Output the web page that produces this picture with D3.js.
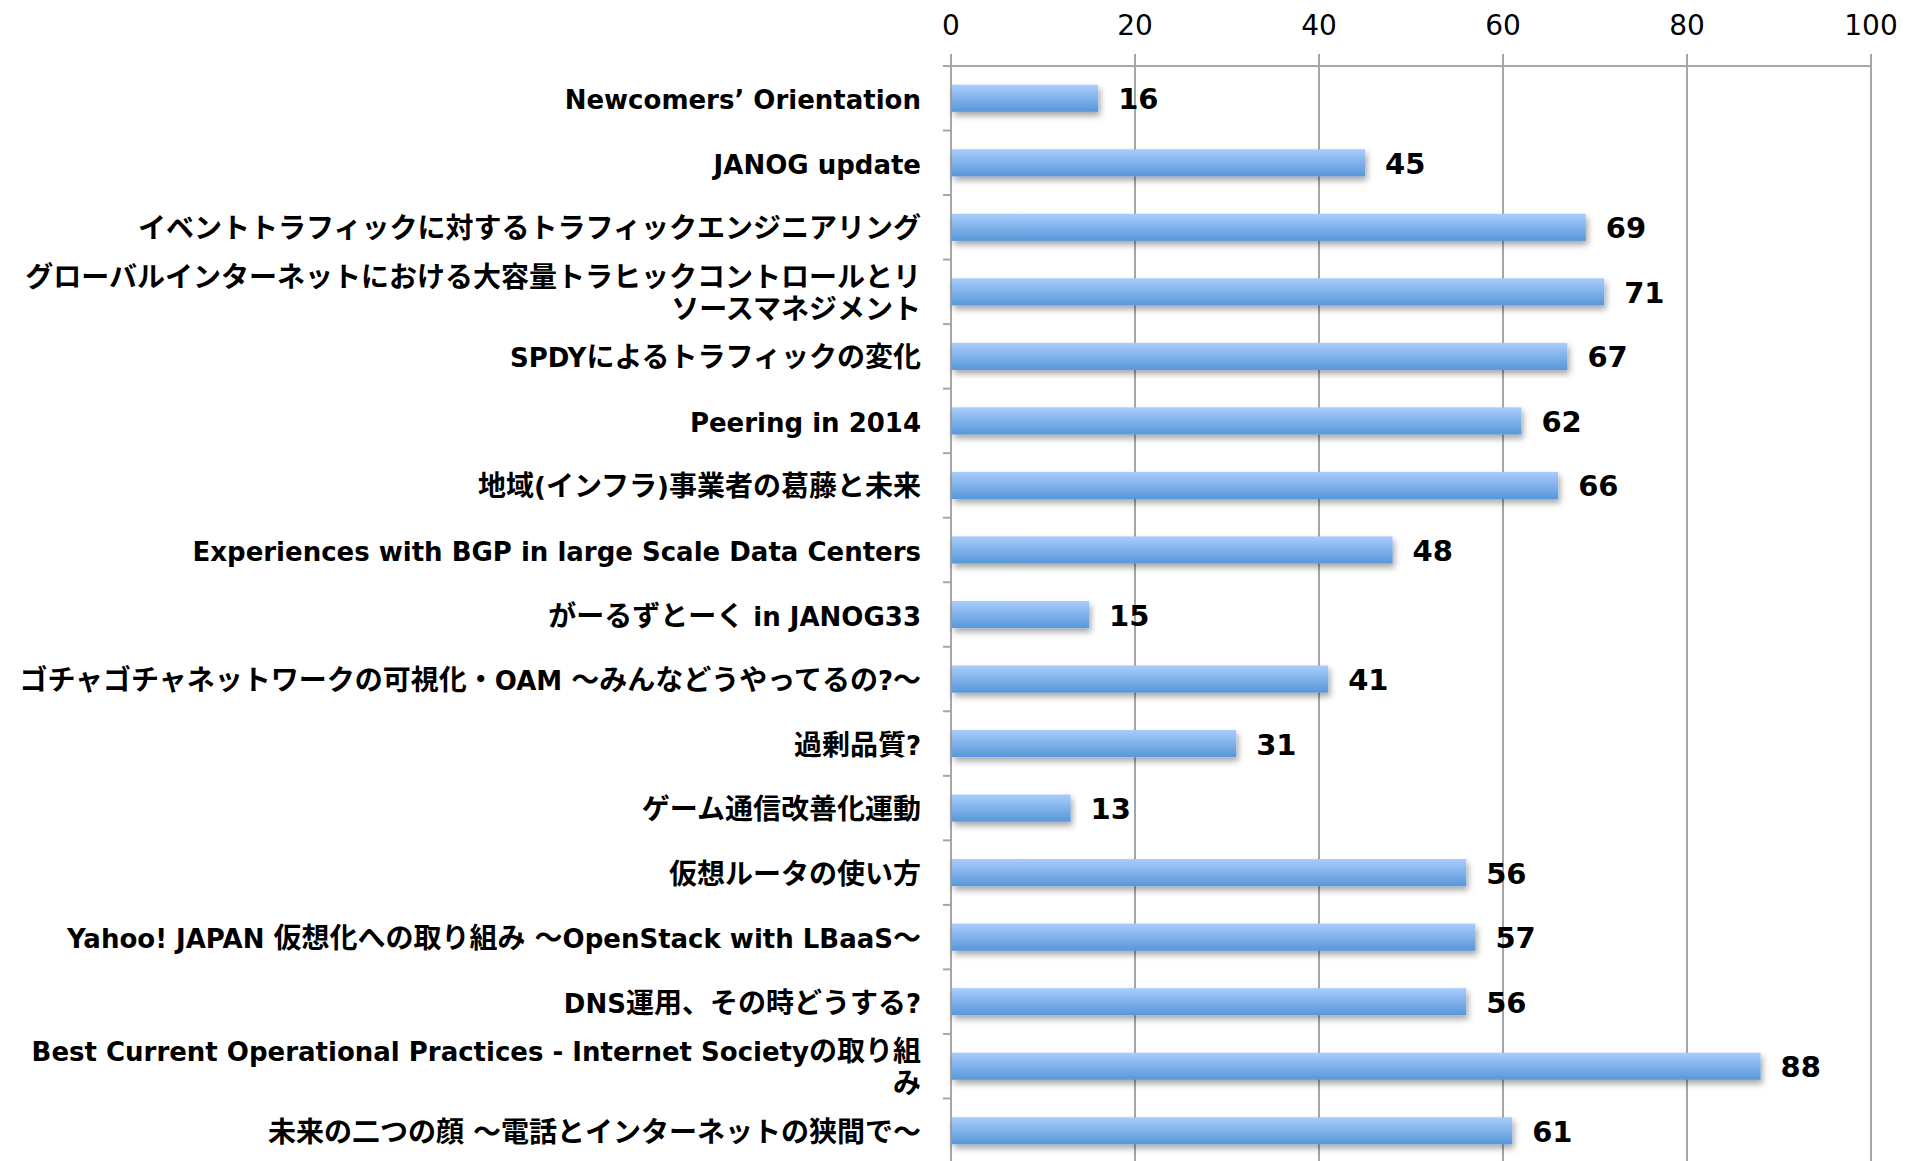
<!DOCTYPE html>
<meta charset="utf-8">
<style>
body { margin: 0; background: #fff; }
.grid line { stroke: #a6a6a6; stroke-width: 2px; }
.tick-label { font-family: "DejaVu Sans", sans-serif; font-size: 28px; fill: #000; }
.cat-label { font-family: "Noto Sans CJK JP", sans-serif; font-weight: 700; font-size: 28px; fill: #000; }
.cat-label .latin { font-family: "DejaVu Sans", sans-serif; font-size: 26px; }
.val-label { font-family: "DejaVu Sans", sans-serif; font-weight: 700; font-size: 29px; fill: #000; }
</style>
<svg width="1907" height="1161"></svg>
<script src="https://cdn.jsdelivr.net/npm/d3@7"></script>
<script>

var categories = [
    "Newcomers’ Orientation",
    "JANOG update",
    "イベントトラフィックに対するトラフィックエンジニアリング",
    "グローバルインターネットにおける大容量トラヒックコントロールとリ\nソースマネジメント",
    "SPDYによるトラフィックの変化",
    "Peering in 2014",
    "地域(インフラ)事業者の葛藤と未来",
    "Experiences with BGP in large Scale Data Centers",
    "がーるずとーく in JANOG33",
    "ゴチャゴチャネットワークの可視化・OAM ～みんなどうやってるの?～",
    "過剰品質?",
    "ゲーム通信改善化運動",
    "仮想ルータの使い方",
    "Yahoo! JAPAN 仮想化への取り組み ～OpenStack with LBaaS～",
    "DNS運用、その時どうする?",
    "Best Current Operational Practices - Internet Societyの取り組\nみ",
    "未来の二つの顔 ～電話とインターネットの狭間で～"
];
var values = [16, 45, 69, 71, 67, 62, 66, 48, 15, 41, 31, 13, 56, 57, 56, 88, 61];
var ticks = [0, 20, 40, 60, 80, 100];

var svg = d3.select("svg"),
    mLeft = 951, mRight = 1871, mTop = 66, mBottom = 1163;

var x = d3.scaleLinear().domain([0, 100]).range([mLeft, mRight]);
var y = d3.scaleBand().domain(d3.range(categories.length)).range([mTop, mBottom]).paddingInner(0.58).paddingOuter(0.29);

var defs = svg.append("defs");
var grad = defs.append("linearGradient").attr("id", "barGrad")
    .attr("x1", 0).attr("y1", 0).attr("x2", 0).attr("y2", 1);
grad.append("stop").attr("offset", "0%").attr("stop-color", "#a9cdfb");
grad.append("stop").attr("offset", "100%").attr("stop-color", "#5797da");

var shadow = defs.append("filter").attr("id", "shadow")
    .attr("x", "-5%").attr("y", "-30%").attr("width", "110%").attr("height", "180%");
shadow.append("feDropShadow").attr("dx", 2).attr("dy", 4).attr("stdDeviation", 3)
    .attr("flood-color", "#000").attr("flood-opacity", 0.35);

// vertical grid lines + ticks above the top line
var grid = svg.append("g").attr("class", "grid");
grid.selectAll(".v").data(ticks).enter().append("line")
    .attr("x1", d => x(d)).attr("x2", d => x(d))
    .attr("y1", mTop - 12).attr("y2", mBottom);

// top horizontal line
grid.append("line").attr("x1", mLeft - 8).attr("x2", mRight).attr("y1", mTop).attr("y2", mTop);

// category boundary ticks on the left axis
var bounds = d3.range(categories.length + 1).map(i => mTop + i * y.step());
grid.selectAll(".c").data(bounds).enter().append("line")
    .attr("x1", mLeft - 8).attr("x2", mLeft).attr("y1", d => d).attr("y2", d => d);

// tick labels
svg.append("g").selectAll("text").data(ticks).enter().append("text")
    .attr("class", "tick-label")
    .attr("x", d => x(d)).attr("y", 25)
    .attr("text-anchor", "middle").attr("dominant-baseline", "central")
    .text(d => d);

// bars
svg.append("g").selectAll("rect").data(values).enter().append("rect")
    .attr("x", x(0) + 1)
    .attr("y", (d, i) => y(i))
    .attr("width", d => x(d) - x(0) - 1)
    .attr("height", y.bandwidth())
    .attr("fill", "url(#barGrad)")
    .attr("filter", "url(#shadow)");

// value labels
svg.append("g").selectAll("text").data(values).enter().append("text")
    .attr("class", "val-label")
    .attr("x", d => x(d) + 20)
    .attr("y", (d, i) => y(i) + y.bandwidth() / 2 + 11)
    .text(d => d);

// left axis line drawn on top
grid.append("line").attr("x1", mLeft).attr("x2", mLeft).attr("y1", mTop).attr("y2", mBottom);

// category labels: split each line into CJK / latin runs
var cjk = /([\u3000-\u30ff\u4e00-\u9fff\uff00-\uffef]+)/;
var lineH = 31.5;
svg.append("g").selectAll("text").data(categories).enter().append("text")
    .attr("class", "cat-label")
    .attr("text-anchor", "end")
    .each(function(d, i) {
        var lines = d.split("\n");
        var cy = y(i) + y.bandwidth() / 2 - (lines.length - 1) * lineH / 2;
        var t = d3.select(this);
        lines.forEach(function(l, j) {
            var runs = l.split(cjk).filter(s => s.length);
            runs.forEach(function(r, k) {
                var ts = t.append("tspan").text(r);
                if (!cjk.test(r)) ts.attr("class", "latin");
                if (k === 0) ts.attr("x", 921).attr("y", cy + j * lineH + 11);
            });
        });
    });

</script>
